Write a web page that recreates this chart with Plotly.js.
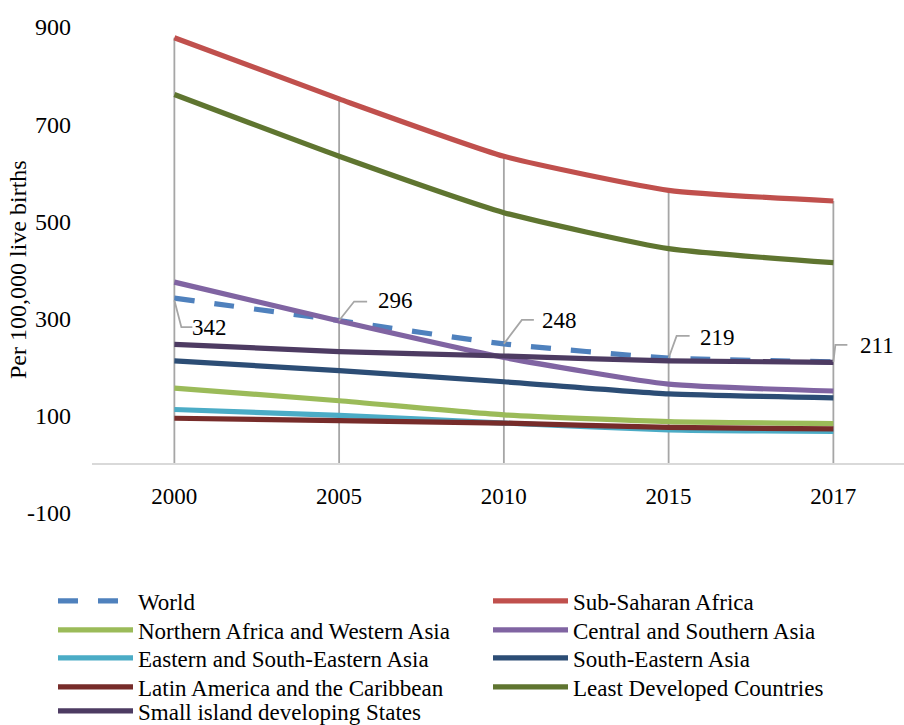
<!DOCTYPE html>
<html>
<head>
<meta charset="utf-8">
<script src="https://cdn.plot.ly/plotly-3.0.1.min.js"></script>
<style>html,body{margin:0;padding:0;background:#fff;}#chart{width:904px;height:725px;}</style>
</head>
<body>
<div id="chart"></div>
<script>
const years = ["2000", "2005", "2010", "2015", "2017"];
const world = [342, 296, 248, 219, 211];
const subSaharanAfrica = [878, 752, 634, 564, 542];
const northernAfricaWesternAsia = [157, 131, 102, 88, 84];
const centralSouthernAsia = [375, 295, 220, 165, 151];
const easternSouthEasternAsia = [113, 101, 85, 71, 68];
const southEasternAsia = [213, 193, 170, 145, 137];
const latinAmericaCaribbean = [95, 90, 85, 76, 73];
const leastDeveloped = [761, 634, 518, 444, 415];
const smallIslandStates = [247, 232, 223, 213, 210];
const seriesNames = ["World", "Sub-Saharan Africa", "Northern Africa and Western Asia",
  "Central and Southern Asia", "Eastern and South-Eastern Asia", "South-Eastern Asia",
  "Latin America and the Caribbean", "Least Developed Countries", "Small island developing States"];
const yTickVals = [-100, 100, 300, 500, 700, 900];
const yTickText = ["-100", "100", "300", "500", "700", "900"];
const yTitle = "Per 100,000 live births";

const seriesData = [world, subSaharanAfrica, northernAfricaWesternAsia, centralSouthernAsia,
  easternSouthEasternAsia, southEasternAsia, latinAmericaCaribbean, leastDeveloped, smallIslandStates];
const colors = ["#4F81BD", "#C0504D", "#9BBB59", "#8064A2", "#4BACC6", "#2C4D75", "#772C2A", "#5F7530", "#4D3B62"];

const font = "'Liberation Serif', 'Times New Roman', serif";

// drop lines from the axis up to the highest series value in each category
const dropX = [], dropY = [];
years.forEach((y, i) => {
  const mx = Math.max(...seriesData.map(s => s[i]));
  dropX.push(y, y, null); dropY.push(0, mx, null);
});

const traces = [{
  x: dropX, y: dropY, mode: "lines", type: "scatter", showlegend: false, hoverinfo: "skip",
  line: {color: "#A6A6A6", width: 1.8}
}];

// legend grid: two columns, rows top to bottom
const colX = [53, 488];
const rowY = [601, 630, 658, 687, 711];
const legends = {};
seriesData.forEach((s, k) => {
  const key = k === 0 ? "legend" : "legend" + (k + 1);
  const col = k % 2, row = Math.floor(k / 2);
  legends[key] = {
    xref: "container", yref: "container", x: colX[col] / 904, y: 1 - rowY[row] / 725,
    xanchor: "left", yanchor: "middle", itemwidth: 75, bgcolor: "rgba(0,0,0,0)",
    font: {family: font, size: 23, color: "#000"}
  };
  traces.push({
    x: years, y: s, name: seriesNames[k], type: "scatter", mode: "lines", legend: key,
    line: {color: colors[k], width: 5.2, shape: "spline", smoothing: 0.5,
      dash: k === 0 ? "20px,20px" : "solid"}
  });
});

const lblOff = [[35, -29], [56, 20], [56, 23], [49, 20], [44, 16]];
const leader = [
  "M0,-2 L7,-29 L18,-29",
  "M0,0 L15,19 L28,19",
  "M0,0 L18,24 L30,24",
  "M0,0 L8,22 L21,22",
  "M0,0 L2,17 L14,17"
];
const annotations = years.map((y, i) => ({
  x: i, y: world[i], xref: "x", yref: "y", text: String(world[i]), showarrow: false,
  xshift: lblOff[i][0], yshift: lblOff[i][1], font: {family: font, size: 23, color: "#000"}
}));
annotations.push({
  xref: "paper", yref: "paper", x: (18 - 92) / 812, y: 0.5, xanchor: "center", yanchor: "middle",
  text: yTitle, textangle: -90, showarrow: false, font: {family: font, size: 24, color: "#000"}
});
const shapes = years.map((y, i) => ({
  type: "path", xref: "x", yref: "y", xsizemode: "pixel", ysizemode: "pixel",
  xanchor: i, yanchor: world[i], path: leader[i], line: {color: "#A6A6A6", width: 1.8}
}));

const layout = Object.assign({
  width: 904, height: 725,
  margin: {l: 92, r: 0, t: 27, b: 212, autoexpand: false},
  paper_bgcolor: "#fff", plot_bgcolor: "#fff",
  font: {family: font, size: 24, color: "#000"},
  showlegend: true,
  xaxis: {
    type: "category", range: [-0.5, 4.4287], anchor: "free", position: 0.1, automargin: false,
    showline: true, linecolor: "#D9D9D9", linewidth: 2, showgrid: false, zeroline: false,
    ticks: "", ticklabelstandoff: 11, tickfont: {family: font, size: 23, color: "#000"}
  },
  yaxis: {
    range: [-100, 900], tickvals: yTickVals, ticktext: yTickText, showgrid: false, zeroline: false, showline: false,
    ticks: "", ticklabelstandoff: 20, automargin: false, tickfont: {family: font, size: 24, color: "#000"}
  },
  annotations: annotations,
  shapes: shapes
}, legends);

Plotly.newPlot("chart", traces, layout, {displayModeBar: false, staticPlot: true});
</script>
</body>
</html>
